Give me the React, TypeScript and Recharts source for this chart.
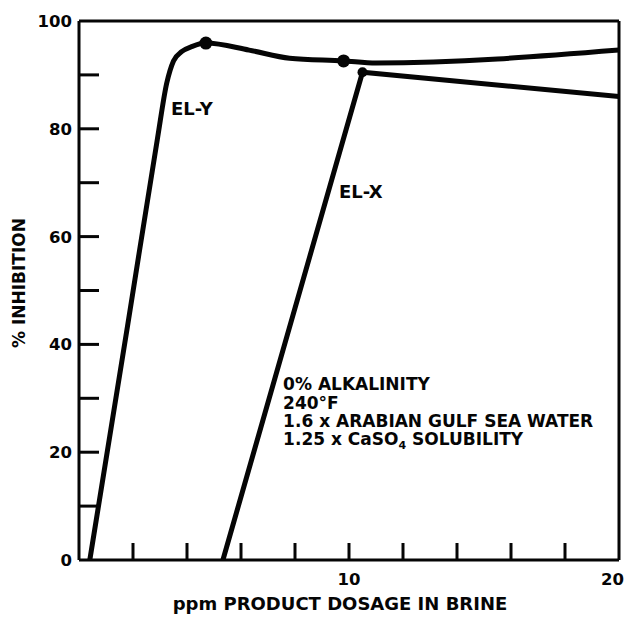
import React from "react";
import {
  LineChart,
  Line,
  XAxis,
  YAxis,
  ReferenceLine,
  ReferenceDot,
  Label
} from "recharts";

// values
const elYDosage = [0.4, 1.8, 2.9, 3.25, 3.5, 3.8, 4.2, 4.7, 6.3, 7.8, 9.8, 11, 20];
const elYInhibition = [0, 43.5, 78, 88.5, 92.6, 94.3, 95.3, 95.9, 94.6, 93.1, 92.6, 92.2, 94.6];
const elYMarked = [4.7, 9.8];

const elXDosage = [5.33, 10.5, 20];
const elXInhibition = [0, 90.5, 86];
const elXMarked = [10.5];

const xTicks = [0, 2, 4, 6, 8, 10, 12, 14, 16, 18, 20];
const xTickLabels = [10, 20];
const yTicks = [0, 10, 20, 30, 40, 50, 60, 70, 80, 90, 100];
const yTickLabels = [0, 20, 40, 60, 80, 100];

const notes = [
  "0% ALKALINITY",
  "240\u00B0F",
  "1.6 x ARABIAN GULF SEA WATER",
];

const elYData = elYDosage.map((x, i) => ({ x, y: elYInhibition[i] }));
const elXData = elXDosage.map((x, i) => ({ x, y: elXInhibition[i] }));

const font = "'DejaVu Sans', Verdana, sans-serif";
const ink = "#050505";

const textStyle = {
  fontFamily: font,
  fontWeight: 700,
  fill: ink,
};

const YTick = (props: any) => {
  const { x, y, payload } = props;
  const v = payload.value;
  return (
    <g>
      {v > 0 && v < 100 && (
        <line x1={x} x2={x + 20} y1={y} y2={y} stroke={ink} strokeWidth={3} />
      )}
      {yTickLabels.includes(v) && (
        <text x={x - 7} y={y} dy={6} textAnchor="end" fontSize={16.5} style={textStyle}>
          {v}
        </text>
      )}
    </g>
  );
};

const XTick = (props: any) => {
  const { x, y, payload } = props;
  const v = payload.value;
  const last = v === 20;
  return (
    <g>
      {v > 0 && v < 20 && (
        <line x1={x} x2={x} y1={y} y2={y - 17} stroke={ink} strokeWidth={3} />
      )}
      {xTickLabels.includes(v) && (
        <text
          x={last ? x + 5 : x}
          y={y + 25}
          textAnchor={last ? "end" : "middle"}
          fontSize={16.5}
          style={textStyle}
        >
          {v}
        </text>
      )}
    </g>
  );
};

const markerDot = (marked: number[], r: number) => (p: any) => {
  if (!marked.includes(p.payload.x)) return <g key={p.key} />;
  return <circle key={p.key} cx={p.cx} cy={p.cy} r={r} fill={ink} stroke="none" />;
};

const XTitle = (props: any) => {
  const { x, y } = props.viewBox;
  return (
    <text x={x + 261} y={y + 50} textAnchor="middle" fontSize={18} style={textStyle}>
      ppm PRODUCT DOSAGE IN BRINE
    </text>
  );
};

const YTitle = () => (
  <text
    x={19}
    y={283}
    textAnchor="middle"
    fontSize={17}
    transform="rotate(-90, 19, 283)"
    dy={6}
    style={textStyle}
  >
    % INHIBITION
  </text>
);

const SeriesTag = (text: string) => (props: any) => (
  <text x={props.viewBox.x} y={props.viewBox.y} fontSize={18} style={textStyle}>
    {text}
  </text>
);

const NotesBlock = (props: any) => {
  const { x, y } = props.viewBox;
  return (
    <text x={x} y={y} fontSize={17} style={textStyle}>
      {notes.map((line, i) => (
        <tspan key={line} x={x} dy={i === 0 ? 0 : 18.3}>
          {line}
        </tspan>
      ))}
      <tspan x={x} dy={18.3}>1.25 x CaSO</tspan>
      <tspan dy={4} fontSize={11}>4</tspan>
      <tspan dy={-4}> SOLUBILITY</tspan>
    </text>
  );
};

export default function App() {
  return (
    <div style={{ position: "absolute", left: 0, top: 0, width: 624, height: 617, background: "#fff" }}>
      <LineChart
        width={624}
        height={617}
        margin={{ top: 21, right: 5, left: 0, bottom: 0 }}
      >
        <XAxis
          type="number"
          dataKey="x"
          domain={[0, 20]}
          ticks={xTicks}
          interval={0}
          allowDataOverflow
          height={57}
          tickSize={0}
          tickMargin={0}
          tick={<XTick />}
          axisLine={{ stroke: ink, strokeWidth: 3 }}
        >
          <Label content={<XTitle />} />
        </XAxis>
        <YAxis
          type="number"
          dataKey="y"
          domain={[0, 100]}
          ticks={yTicks}
          interval={0}
          width={79}
          tickSize={0}
          tickMargin={0}
          tick={<YTick />}
          axisLine={{ stroke: ink, strokeWidth: 3 }}
        >
          <Label content={<YTitle />} />
        </YAxis>
        <ReferenceLine y={100} stroke={ink} strokeWidth={3} />
        <ReferenceLine x={20} stroke={ink} strokeWidth={3} />
        <Line
          data={elYData}
          dataKey="y"
          type="monotone"
          stroke={ink}
          strokeWidth={5}
          dot={markerDot(elYMarked, 6.5)}
          activeDot={false}
          isAnimationActive={false}
        />
        <Line
          data={elXData}
          dataKey="y"
          type="linear"
          stroke={ink}
          strokeWidth={5}
          dot={markerDot(elXMarked, 5)}
          activeDot={false}
          isAnimationActive={false}
        />
        <ReferenceDot x={3.41} y={82.6} r={0} label={<Label content={SeriesTag("EL-Y")} />} />
        <ReferenceDot x={9.63} y={67.2} r={0} label={<Label content={SeriesTag("EL-X")} />} />
        <ReferenceDot x={7.56} y={31.5} r={0} label={<Label content={<NotesBlock />} />} />
      </LineChart>
    </div>
  );
}
